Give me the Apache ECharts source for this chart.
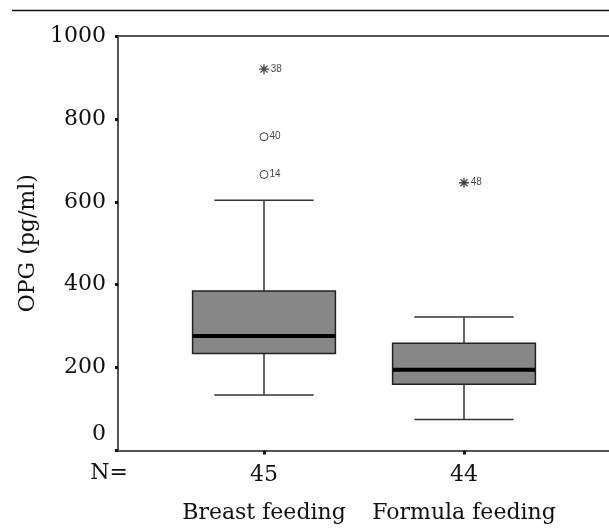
<!DOCTYPE html>
<html>
<head>
<meta charset="utf-8">
<script src="https://cdn.jsdelivr.net/npm/echarts@6/dist/echarts.min.js"></script>
<style>
    html, body { margin: 0; background: #fff; }
    #chart { width: 609px; height: 528px; }
</style>
</head>
<body>
<div id="chart"></div>
<script>
// box summary per group
const categories = ['Breast feeding', 'Formula feeding'];
const counts = [45, 44];
const whiskerLow = [134, 75];
const q1 = [234, 160];
const median = [276, 195];
const q3 = [385, 259];
const whiskerHigh = [604, 322];

// outliers (group index, value, case number, kind)
const outlierGroup = [0, 0, 0, 1];
const outlierValue = [920, 757, 666, 646];
const outlierCase = ['38', '40', '14', '48'];
const outlierKind = ['extreme', 'outlier', 'outlier', 'extreme'];

// y axis ticks
const yMin = 0;
const yMax = 1000;
const yStep = 200;

const FONT = 'DejaVu Serif';
const ASTERISK = 'path://M0,5L10,5M5,0L5,10M1.5,1.5L8.5,8.5M8.5,1.5L1.5,8.5';

function renderBox(params, api) {
    const i = api.value(0);
    const band = api.size([1, 0])[0];
    const boxHalf = band * 0.357;
    const capHalf = band * 0.248;
    const pt = v => api.coord([i, v]);
    const lo = pt(api.value(1));
    const b = pt(api.value(2));
    const m = pt(api.value(3));
    const t = pt(api.value(4));
    const hi = pt(api.value(5));
    const x = lo[0];
    const line = (x1, y1, x2, y2, w, c) => ({
        type: 'line',
        shape: { x1, y1, x2, y2 },
        style: { stroke: c, lineWidth: w }
    });
    return {
        type: 'group',
        children: [
            line(x, hi[1], x, t[1], 1.5, '#333'),
            line(x, b[1], x, lo[1], 1.5, '#333'),
            line(x - capHalf, hi[1], x + capHalf, hi[1], 1.5, '#333'),
            line(x - capHalf, lo[1], x + capHalf, lo[1], 1.5, '#333'),
            {
                type: 'rect',
                shape: { x: x - boxHalf, y: t[1], width: boxHalf * 2, height: b[1] - t[1] },
                style: { fill: '#878787', stroke: '#222', lineWidth: 1.5 }
            },
            line(x - boxHalf, m[1], x + boxHalf, m[1], 4, '#000')
        ]
    };
}

const boxData = categories.map((c, i) => [i, whiskerLow[i], q1[i], median[i], q3[i], whiskerHigh[i]]);
const outlierData = outlierValue.map((v, k) => ({
    value: [outlierGroup[k], v],
    symbol: outlierKind[k] === 'extreme' ? ASTERISK : 'circle',
    symbolSize: outlierKind[k] === 'extreme' ? 10 : 8,
    itemStyle: { color: '#fff', borderColor: '#111', borderWidth: outlierKind[k] === 'extreme' ? 1.3 : 1 },
    label: { formatter: outlierCase[k] }
}));

const chart = echarts.init(document.getElementById('chart'));
chart.setOption({
    animation: false,
    backgroundColor: '#fff',
    textStyle: { fontFamily: FONT },
    graphic: [{
        type: 'line',
        shape: { x1: 12, y1: 10.5, x2: 609, y2: 10.5 },
        style: { stroke: '#111', lineWidth: 1.5 }
    }],
    grid: [
        { left: 118, right: 0, top: 36, bottom: 77.5 },
        { left: 164, right: 45, top: 36, bottom: 77.5 }
    ],
    xAxis: [
        {
            gridIndex: 0, type: 'value', min: 0, max: 1,
            axisLine: { show: true, lineStyle: { color: '#555', width: 2 } },
            axisTick: { show: false }, axisLabel: { show: false }, splitLine: { show: false },
            name: 'N=', nameLocation: 'start', nameGap: -10,
            nameTextStyle: { fontFamily: FONT, fontSize: 22, color: '#111', verticalAlign: 'top', padding: [12, 0, 0, 0] }
        },
        {
            gridIndex: 0, type: 'value', min: 0, max: 1, position: 'top',
            axisLine: { show: true, lineStyle: { color: '#555', width: 2 } },
            axisTick: { show: false }, axisLabel: { show: false }, splitLine: { show: false }
        },
        {
            gridIndex: 1, type: 'category', data: categories,
            axisLine: { show: false },
            axisTick: { show: true, alignWithLabel: true, length: 4, lineStyle: { color: '#111', width: 3 } },
            axisLabel: {
                margin: 12,
                formatter: (v, i) => `{n|${counts[i]}}\n{c|${v}}`,
                rich: {
                    n: { fontFamily: FONT, fontSize: 22, color: '#111', lineHeight: 26 },
                    c: { fontFamily: FONT, fontSize: 22, color: '#111', lineHeight: 50 }
                }
            }
        }
    ],
    yAxis: [
        {
            gridIndex: 0, type: 'value', min: yMin, max: yMax, interval: yStep,
            axisLine: { show: true, lineStyle: { color: '#555', width: 2 } },
            axisTick: { show: true, length: 3, lineStyle: { color: '#111', width: 3 } },
            splitLine: { show: false },
            axisLabel: {
                margin: 12, fontFamily: FONT, fontSize: 22, color: '#111',
                formatter: v => (v === 0 ? '{z|0}' : String(v)),
                rich: { z: { fontFamily: FONT, fontSize: 22, color: '#111', padding: [0, 0, 32, 0] } }
            },
            name: 'OPG (pg/ml)', nameLocation: 'middle', nameGap: 78,
            nameTextStyle: { fontFamily: FONT, fontSize: 22, color: '#111' }
        },
        {
            gridIndex: 1, type: 'value', min: yMin, max: yMax, show: false
        }
    ],
    series: [
        {
            type: 'custom',
            xAxisIndex: 2, yAxisIndex: 1,
            renderItem: renderBox,
            encode: { x: 0, y: [1, 2, 3, 4, 5] },
            data: boxData,
            z: 2
        },
        {
            type: 'scatter',
            xAxisIndex: 2, yAxisIndex: 1,
            data: outlierData,
            label: {
                show: true, position: 'right', distance: 1,
                fontFamily: 'Liberation Sans Narrow, Liberation Sans', fontSize: 10, color: '#111'
            },
            z: 3
        }
    ]
});
</script>
</body>
</html>
